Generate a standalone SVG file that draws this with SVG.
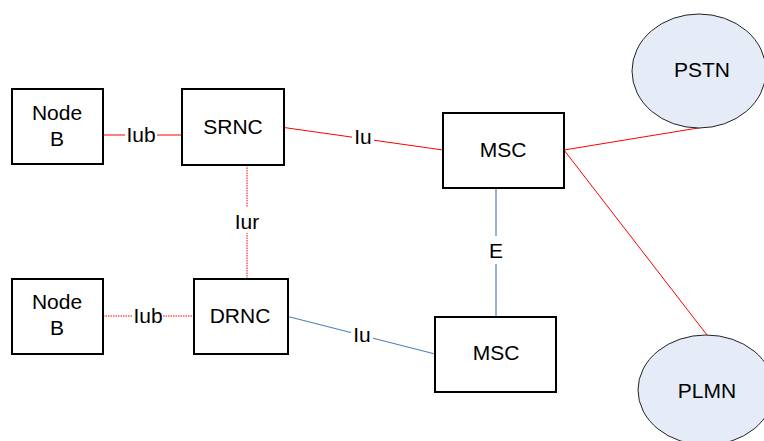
<svg xmlns="http://www.w3.org/2000/svg" width="764" height="441" viewBox="0 0 764 441">
<style>
.box{fill:#fff;stroke:#000;stroke-width:2}
.ell{fill:#E6ECF7;stroke:#222;stroke-width:1}
text{font-family:"Liberation Sans",Arial,sans-serif;font-size:21px;fill:#000;text-anchor:middle}
.red{stroke:#FF0000;stroke-width:1;fill:none}
.dot{stroke-dasharray:1.5 1}
.blue{stroke:#4F81BD;stroke-width:1.2;fill:none}
.lblue{stroke:#95B3D7;stroke-width:2;fill:none}
.bg{fill:#fff}
</style>
<rect width="764" height="441" fill="#fff"/>
<g id="connectors">
  <line class="red" x1="103" y1="135" x2="182" y2="135"/>
  <line class="red dot" x1="103" y1="316" x2="194" y2="316"/>
  <line class="red dot" x1="247" y1="165" x2="247" y2="279"/>
  <line class="red" x1="284" y1="127.5" x2="443" y2="150"/>
  <line class="lblue" x1="496" y1="188" x2="496" y2="317"/>
  <line class="blue" x1="288" y1="316.5" x2="435" y2="354"/>
  <line class="red" x1="564" y1="150" x2="701" y2="127.5"/>
  <line class="red" x1="564" y1="150" x2="707" y2="335"/>
  <rect class="bg" x="125" y="124" width="32" height="22"/>
  <text x="141" y="142">Iub</text>
  <rect class="bg" x="133" y="305" width="30" height="22"/>
  <text x="148" y="323">Iub</text>
  <rect class="bg" x="233" y="207" width="28" height="26"/>
  <text x="247" y="229">Iur</text>
  <rect class="bg" x="352" y="126" width="22" height="22"/>
  <text x="363" y="144">Iu</text>
  <rect class="bg" x="351" y="324" width="22" height="22"/>
  <text x="362" y="342">Iu</text>
  <rect class="bg" x="487" y="236" width="18" height="28"/>
  <text x="496" y="258">E</text>
</g>
<g id="nodeb1">
  <rect class="box" x="12" y="89" width="91" height="75"/>
  <text x="57" y="120">Node</text>
  <text x="57" y="146">B</text>
</g>
<g id="srnc">
  <rect class="box" x="182" y="89" width="102" height="76"/>
  <text x="233" y="134">SRNC</text>
</g>
<g id="nodeb2">
  <rect class="box" x="12" y="279" width="91" height="75"/>
  <text x="57" y="309">Node</text>
  <text x="57" y="335">B</text>
</g>
<g id="drnc">
  <rect class="box" x="194" y="279" width="94" height="75"/>
  <text x="240" y="323">DRNC</text>
</g>
<g id="msc1">
  <rect class="box" x="443" y="113" width="121" height="75"/>
  <text x="503" y="157">MSC</text>
</g>
<g id="msc2">
  <rect class="box" x="435" y="317" width="121" height="75"/>
  <text x="496" y="360">MSC</text>
</g>
<g id="pstn">
  <ellipse class="ell" cx="699" cy="71" rx="67" ry="57"/>
  <text x="702" y="77">PSTN</text>
</g>
<g id="plmn">
  <ellipse class="ell" cx="706" cy="390" rx="68" ry="55"/>
  <text x="707" y="398">PLMN</text>
</g>
</svg>
